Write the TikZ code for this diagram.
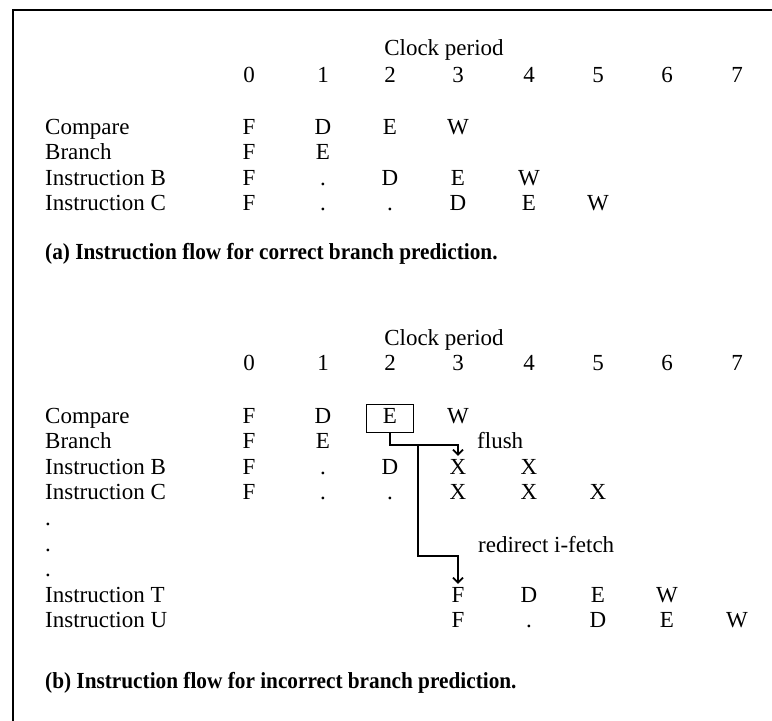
\documentclass[tikz,border=0pt]{standalone}
\usepackage{fontspec}
\setmainfont{Liberation Serif}
\newfontfamily\capfont{Liberation Serif}[FakeStretch=0.925]
\usetikzlibrary{positioning,arrows.meta}

\begin{document}
\begin{tikzpicture}[
        x=1pt, y=-1pt,
        every node/.style={font=\fontsize{23}{26}\selectfont, inner sep=0pt, anchor=base},
        rowlabel/.style={anchor=base west},
        caption/.style={anchor=base west, font=\fontsize{23}{26}\selectfont\capfont\bfseries},
        hilite/.style={draw, line width=1.8pt, minimum width=47pt, minimum height=28pt, text depth=6pt},
        flow/.style={draw, line width=1.8pt, -{Straight Barb[length=5pt,width=10pt,line width=1.8pt]}}
    ]
 \useasboundingbox (0,0) rectangle (772,721);
 \draw[line width=2pt] (13,721) -- (13,10) -- (772,10);

 % (a) correct prediction
 \node (a-clock) at (444,55) {Clock period};
 \foreach \x [count=\i from 0] in {249,323,390,458,529,598,667,737}
     \node (a\i) at (\x,82) {\i};
 \node[rowlabel] (a-cmp) at (45,134)   {Compare};
 \node[rowlabel] (a-br)  at (45,159.6) {Branch};
 \node[rowlabel] (a-b)   at (45,185.2) {Instruction B};
 \node[rowlabel] (a-c)   at (45,210.8) {Instruction C};
 \foreach \s [count=\i from 0] in {F,D,E,W}
     \node (a-cmp-\i) at (a\i |- a-cmp.base) {\s};
 \foreach \s [count=\i from 0] in {F,E}
     \node (a-br-\i) at (a\i |- a-br.base) {\s};
 \foreach \s [count=\i from 0] in {F,.,D,E,W}
     \node (a-b-\i) at (a\i |- a-b.base) {\s};
 \foreach \s [count=\i from 0] in {F,.,.,D,E,W}
     \node (a-c-\i) at (a\i |- a-c.base) {\s};
 \node[caption] (a-cap) at (45,259) {(a) Instruction flow for correct branch prediction.};

 % (b) incorrect prediction
 \node (b-clock) at (444,345) {Clock period};
 \foreach \x [count=\i from 0] in {249,323,390,458,529,598,667,737}
     \node (b\i) at (\x,370) {\i};
 \node[rowlabel] (b-cmp) at (45,423)   {Compare};
 \node[rowlabel] (b-br)  at (45,448.6) {Branch};
 \node[rowlabel] (b-b)   at (45,474.2) {Instruction B};
 \node[rowlabel] (b-c)   at (45,499.8) {Instruction C};
 \node[rowlabel] (b-d1)  at (45,525.4) {.};
 \node[rowlabel] (b-d2)  at (45,551)   {.};
 \node[rowlabel] (b-d3)  at (45,576.6) {.};
 \node[rowlabel] (b-t)   at (45,602.2) {Instruction T};
 \node[rowlabel] (b-u)   at (45,627.8) {Instruction U};
 \foreach \s [count=\i from 0] in {F,D}
     \node (b-cmp-\i) at (b\i |- b-cmp.base) {\s};
 \node[hilite] (b-cmp-2) at (b2 |- b-cmp.base) {E};
 \node (b-cmp-3) at (b3 |- b-cmp.base) {W};
 \foreach \s [count=\i from 0] in {F,E}
     \node (b-br-\i) at (b\i |- b-br.base) {\s};
 \foreach \s [count=\i from 0] in {F,.,D,X,X}
     \node (b-b-\i) at (b\i |- b-b.base) {\s};
 \foreach \s [count=\i from 0] in {F,.,.,X,X,X}
     \node (b-c-\i) at (b\i |- b-c.base) {\s};
 \foreach \s [count=\i from 3] in {F,D,E,W}
     \node (b-t-\i) at (b\i |- b-t.base) {\s};
 \foreach \s [count=\i from 3] in {F,.,D,E,W}
     \node (b-u-\i) at (b\i |- b-u.base) {\s};
 \node[rowlabel] (flush) at (477,448.6) {flush};
 \node[rowlabel] (redir) at (478,552) {redirect i-fetch};
 \node[caption] (b-cap) at (45,688) {(b) Instruction flow for incorrect branch prediction.};

 % connectors
 \coordinate (turn) at (b-cmp-2.south |- 0,445);
 \coordinate (split) at (418,445);
 \draw[flow] (b-cmp-2.south) -- (turn) -| ([yshift=3pt]b-b-3.north);
 \draw[flow] (split) -- (split |- 0,556) -| ([yshift=3pt]b-t-3.north);
\end{tikzpicture}
\end{document}
